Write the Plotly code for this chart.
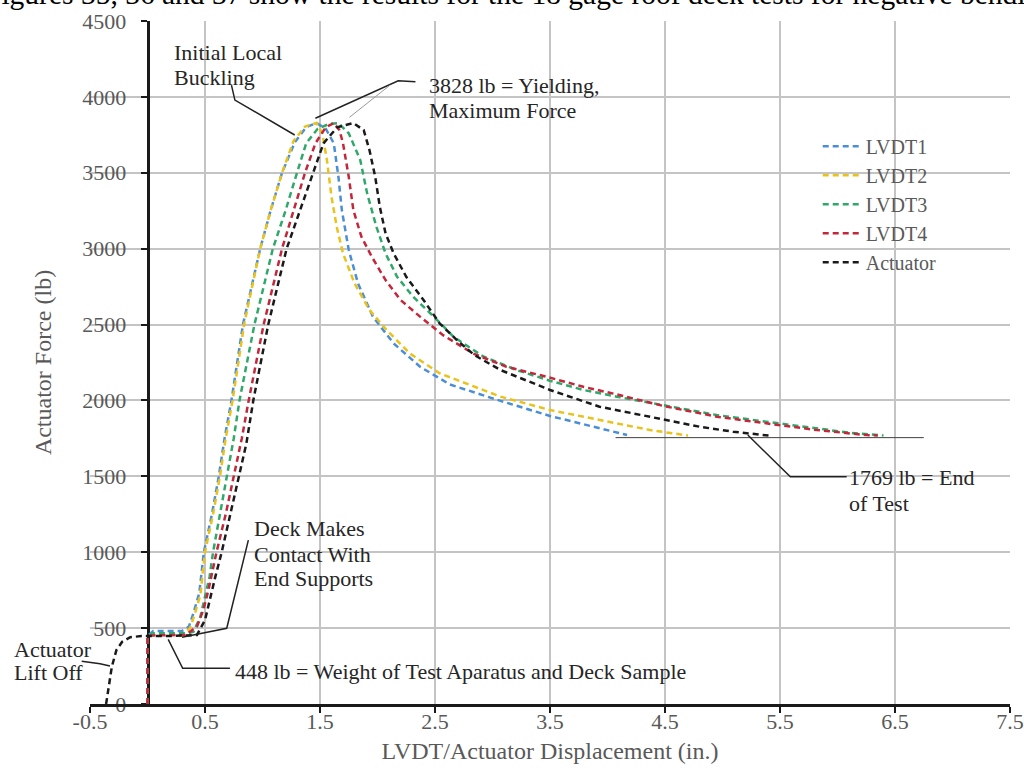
import plotly.graph_objects as go

# ---------------- data ----------------
lvdt1_x = [0, 0, 0.05, 0.30, 0.36, 0.40, 0.45, 0.49, 0.56, 0.62, 0.67, 0.73, 0.83, 0.98, 1.07, 1.17, 1.28, 1.38, 1.47,
           1.55, 1.62, 1.66, 1.69, 1.75, 1.83, 1.96, 2.14, 2.37, 2.63, 3.07, 3.50, 3.93, 4.17]
lvdt1_y = [0, 448, 481, 481, 510, 600, 730, 1000, 1250, 1500, 1750, 2000, 2500, 3000, 3250, 3500, 3700, 3800, 3828,
           3790, 3694, 3474, 3254, 2991, 2772, 2552, 2376, 2222, 2105, 1997, 1898, 1816, 1772]

lvdt2_x = [0, 0, 0.05, 0.30, 0.37, 0.41, 0.46, 0.50, 0.57, 0.63, 0.68, 0.74, 0.84, 0.98, 1.07, 1.17, 1.27, 1.37, 1.47,
           1.52, 1.56, 1.60, 1.645, 1.70, 1.80, 1.93, 2.08, 2.28, 2.54, 3.07, 3.50, 3.93, 4.37, 4.70]
lvdt2_y = [0, 448, 462, 452, 500, 590, 720, 1000, 1250, 1500, 1750, 2000, 2500, 3000, 3250, 3500, 3710, 3805, 3828,
           3760, 3584, 3342, 3145, 2969, 2772, 2596, 2464, 2310, 2179, 2025, 1937, 1871, 1805, 1769]

lvdt3_x = [0, 0, 0.05, 0.35, 0.40, 0.46, 0.50, 0.54, 0.57, 0.63, 0.69, 0.75, 0.80, 0.93, 1.09, 1.20, 1.30, 1.38, 1.48,
           1.58, 1.66, 1.75, 1.85, 1.91, 1.99, 2.07, 2.17, 2.31, 2.49, 2.66, 2.92, 3.21, 3.50, 3.79, 4.08, 4.49, 4.95,
           5.38, 5.82, 6.11, 6.40]
lvdt3_y = [0, 448, 466, 466, 476, 575, 707, 839, 1000, 1250, 1500, 1750, 2000, 2500, 3000, 3250, 3500, 3694, 3790,
           3822, 3828, 3760, 3584, 3364, 3145, 2969, 2815, 2683, 2552, 2420, 2290, 2200, 2130, 2069, 2025, 1970, 1904,
           1860, 1816, 1787, 1769]

lvdt4_x = [0, 0, 0.05, 0.33, 0.43, 0.485, 0.53, 0.60, 0.68, 0.75, 0.82, 0.88, 1.01, 1.17, 1.27, 1.37, 1.46, 1.55,
           1.62, 1.67, 1.70, 1.75, 1.79, 1.86, 1.95, 2.07, 2.20, 2.37, 2.57, 2.83, 3.12, 3.47, 3.79, 4.08, 4.49, 4.95,
           5.38, 5.82, 6.25, 6.35]
lvdt4_y = [0, 448, 452, 455, 509, 619, 751, 1000, 1250, 1500, 1750, 2000, 2500, 3000, 3250, 3500, 3694, 3800,
           3828, 3780, 3694, 3474, 3254, 3079, 2947, 2793, 2662, 2552, 2430, 2310, 2222, 2156, 2090, 2040, 1963, 1893,
           1849, 1805, 1772, 1769]

act_x = [-0.36, -0.34, -0.31, -0.27, -0.22, -0.15, -0.05, 0.20, 0.43, 0.50, 0.54, 0.59, 0.645, 0.72, 0.79, 0.86,
         0.92, 1.05, 1.21, 1.34, 1.44, 1.53, 1.65, 1.79, 1.88, 1.93, 1.98, 2.02, 2.07, 2.14, 2.25, 2.40, 2.54, 2.69,
         2.84, 3.07, 3.30, 3.50, 3.93, 4.37, 4.80, 5.09, 5.40]
act_y = [0, 100, 246, 356, 410, 440, 448, 448, 455, 553, 685, 839, 1000, 1250, 1500, 1717, 2000, 2500, 3000, 3276,
         3500, 3694, 3800, 3828, 3781, 3650, 3474, 3276, 3101, 2969, 2815, 2662, 2508, 2398, 2300, 2200, 2130, 2069,
         1959, 1893, 1827, 1794, 1769]

series_names = ["LVDT1", "LVDT2", "LVDT3", "LVDT4", "Actuator"]
series_x = [lvdt1_x, lvdt2_x, lvdt3_x, lvdt4_x, act_x]
series_y = [lvdt1_y, lvdt2_y, lvdt3_y, lvdt4_y, act_y]
series_colors = ["#4a8fd6", "#e9c21c", "#2fa86a", "#c4263a", "#1a1a1a"]

x_ticks = [-0.5, 0.5, 1.5, 2.5, 3.5, 4.5, 5.5, 6.5, 7.5]
y_ticks = [0, 500, 1000, 1500, 2000, 2500, 3000, 3500, 4000, 4500]

SERIF = "Liberation Serif, Times New Roman, serif"

fig = go.Figure()
for name, xs, ys, col in zip(series_names, series_x, series_y, series_colors):
    fig.add_trace(go.Scatter(x=xs, y=ys, mode="lines", name=name,
                             line=dict(color=col, width=2.5, dash="6px,4px")))

# leader lines
leaders = [
    dict(x=[0.73, 0.76, 1.28], y=[4078, 3979, 3749], c="#222222", w=1.5),
    dict(x=[2.33, 2.18, 1.46], y=[4100, 4106, 3859], c="#222222", w=1.5),
    dict(x=[2.11, 1.755], y=[4078, 3865], c="#9a9a9a", w=1.0),
    dict(x=[0.877, 0.689, 0.30], y=[1080, 499, 440], c="#222222", w=1.5),
    dict(x=[0.18, 0.306, 0.717], y=[426, 235, 235], c="#222222", w=1.5),
    dict(x=[4.07, 6.75], y=[1755, 1755], c="#404040", w=1.0),
    dict(x=[5.22, 5.59, 6.08], y=[1772, 1497, 1497], c="#222222", w=1.5),
]
shapes = []
for L in leaders:
    path = "M " + " L ".join(f"{a},{b}" for a, b in zip(L["x"], L["y"]))
    shapes.append(dict(type="path", path=path, xref="x", yref="y",
                       line=dict(color=L["c"], width=L["w"])))
# lift-off leader (extends left of the plot area) in paper coords
shapes.append(dict(type="path", path="M -0.009,0.0626 L 0.0109,0.0589 L 0.0217,0.0555",
                   xref="paper", yref="paper", line=dict(color="#222222", width=1.5)))

ann_font = dict(family=SERIF, size=22, color="#262626")
annotations = [
    dict(x=0.213, y=4295, xref="x", yref="y", text="Initial Local"),
    dict(x=0.213, y=4131, xref="x", yref="y", text="Buckling"),
    dict(x=2.43, y=4078, xref="x", yref="y", text="3828 lb = Yielding,"),
    dict(x=2.43, y=3913, xref="x", yref="y", text="Maximum Force"),
    dict(x=0.909, y=1159, xref="x", yref="y", text="Deck Makes"),
    dict(x=0.909, y=982, xref="x", yref="y", text="Contact With"),
    dict(x=0.909, y=824, xref="x", yref="y", text="End Supports"),
    dict(x=0.743, y=211, xref="x", yref="y", text="448 lb = Weight of Test Aparatus and Deck Sample"),
    dict(x=-0.0848, y=0.0791, xref="paper", yref="paper", text="Actuator"),
    dict(x=-0.0848, y=0.0454, xref="paper", yref="paper", text="Lift Off"),
    dict(x=6.083, y=1495, xref="x", yref="y", text="1769 lb = End"),
    dict(x=6.083, y=1324, xref="x", yref="y", text="of Test"),
]
for a in annotations:
    a.update(showarrow=False, xanchor="left", yanchor="middle", align="left", font=ann_font)

# cropped page text above the chart
annotations.append(dict(x=-0.1163, y=1.0128, xref="paper", yref="paper", xanchor="left", yanchor="bottom",
                        showarrow=False, align="left",
                        text="Figures 35, 36 and 37 show the results for the 18 gage roof deck tests for negative bending",
                        font=dict(family=SERIF, size=29.5, color="#000000")))

fig.update_layout(
    width=1024, height=774,
    margin=dict(l=90, r=14, t=21, b=70),
    paper_bgcolor="white", plot_bgcolor="white",
    showlegend=True,
    legend=dict(x=0.791, y=0.845, xanchor="left", yanchor="top", bgcolor="rgba(0,0,0,0)",
                font=dict(family=SERIF, size=20, color="#595959"), tracegroupgap=0,
                itemwidth=38),
    shapes=shapes, annotations=annotations,
    xaxis=dict(range=[-0.5, 7.5], tickmode="array", tickvals=x_ticks,
               ticktext=[f"{v:g}" for v in x_ticks], automargin=False,
               showgrid=True, gridcolor="#c4c4c4", gridwidth=2, zeroline=False,
               showline=True, linecolor="#1a1a1a", linewidth=2.5, ticks="outside", ticklen=6,
               tickwidth=2, tickcolor="#1a1a1a", ticklabelstandoff=-10,
               tickfont=dict(family=SERIF, size=22, color="#595959"),
               title=dict(text="LVDT/Actuator Displacement (in.)", standoff=10,
                          font=dict(family=SERIF, size=24, color="#595959"))),
    yaxis=dict(range=[0, 4500], tickmode="array", tickvals=y_ticks, automargin=False,
               showgrid=True, gridcolor="#c4c4c4", gridwidth=2, zeroline=False,
               anchor="free", position=0.0625, layer="below traces",
               showline=True, linecolor="#1a1a1a", linewidth=2.5, ticks="outside", ticklen=6,
               tickwidth=2, tickcolor="#1a1a1a", ticklabelstandoff=10,
               tickfont=dict(family=SERIF, size=22, color="#595959"),
               title=dict(text="Actuator Force (lb)", standoff=22,
                          font=dict(family=SERIF, size=24, color="#595959"))),
)

fig.write_html("out.html", config={"displayModeBar": False},
               post_script="document.body.style.margin='0px';")
